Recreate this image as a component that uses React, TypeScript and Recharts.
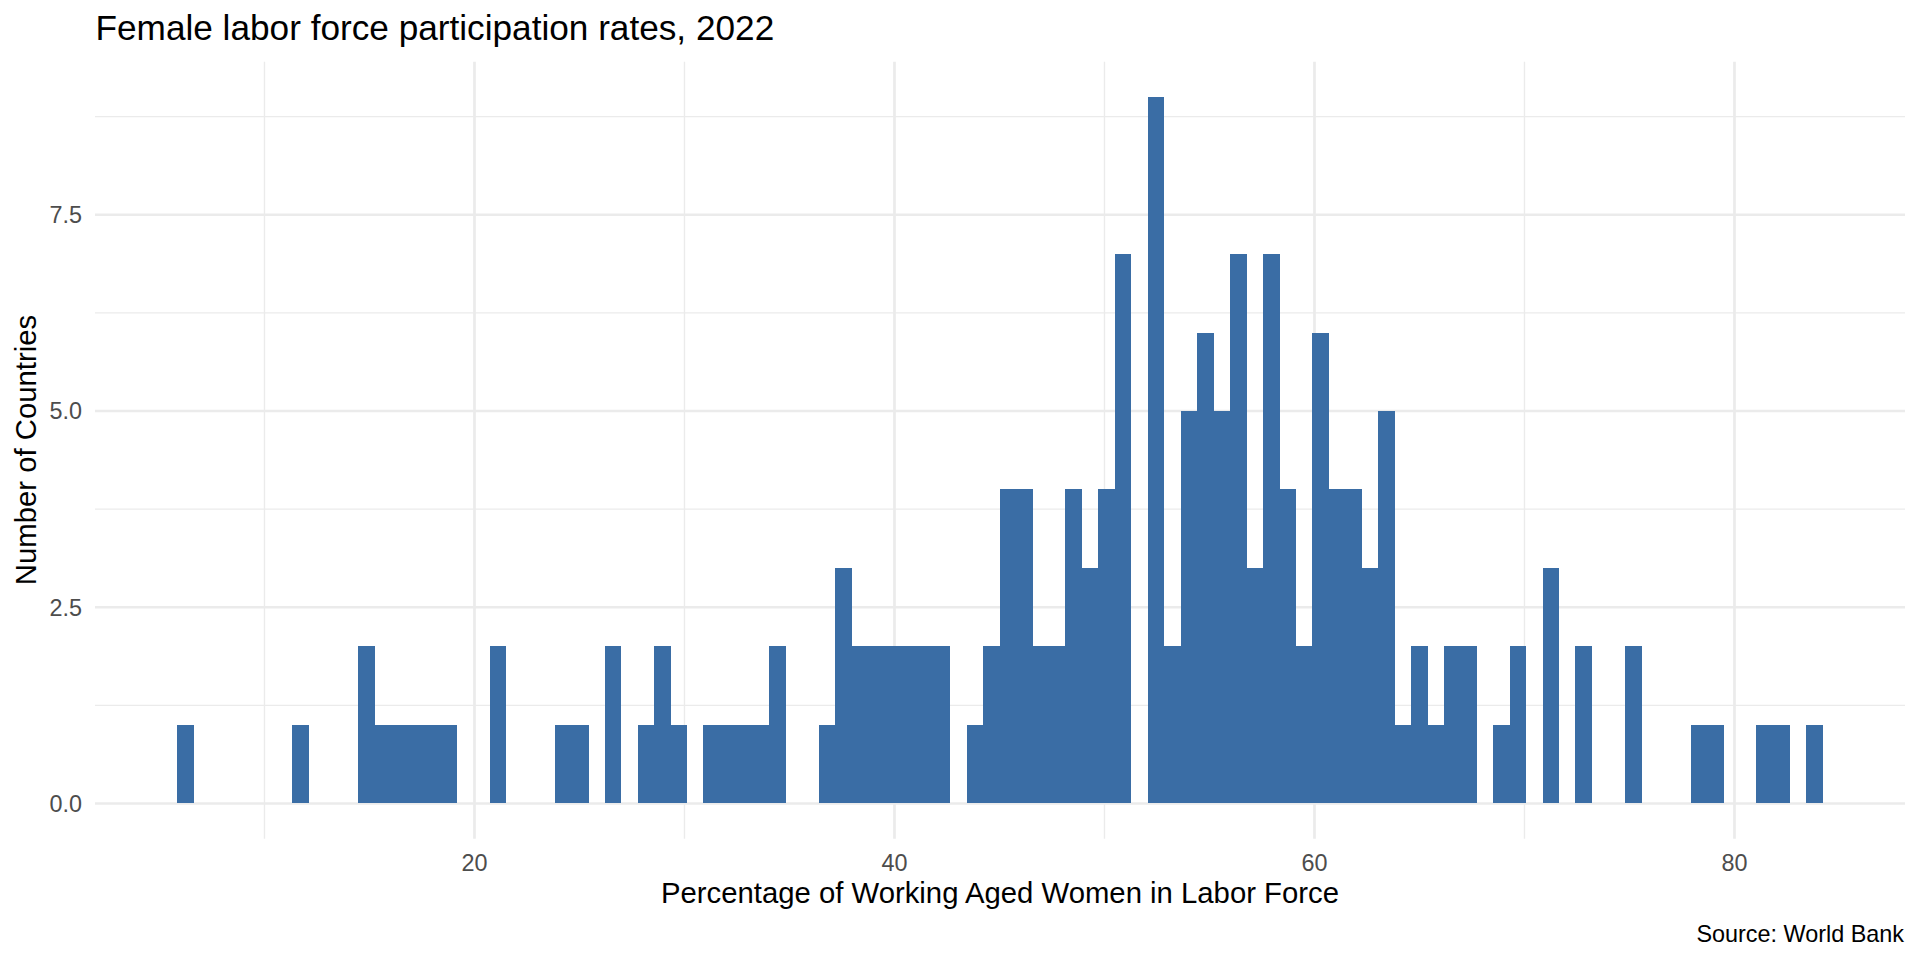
import { Bar, BarChart, CartesianGrid, XAxis, YAxis } from 'recharts';

// histogram of female labour force participation, 100 bins (ggplot style)
const BIN_START = 6.24; // centre of first bin
const BIN_WIDTH = 0.7835;

const binCounts = [
  1, 0, 0, 0, 0, 0, 0, 1, 0, 0,
  0, 2, 1, 1, 1, 1, 1, 0, 0, 2,
  0, 0, 0, 1, 1, 0, 2, 0, 1, 2,
  1, 0, 1, 1, 1, 1, 2, 0, 0, 1,
  3, 2, 2, 2, 2, 2, 2, 0, 1, 2,
  4, 4, 2, 2, 4, 3, 4, 7, 0, 9,
  2, 5, 6, 5, 7, 3, 7, 4, 2, 6,
  4, 4, 3, 5, 1, 2, 1, 2, 2, 0,
  1, 2, 0, 3, 0, 2, 0, 0, 2, 0,
  0, 0, 1, 1, 0, 0, 1, 1, 0, 1,
];

const xTicks = [20, 40, 60, 80];
const xMinorGrid = [10, 30, 50, 70];
const yTicks = [0, 2.5, 5, 7.5];
const yMinorGrid = [1.25, 3.75, 6.25, 8.75];

const X_DOMAIN: [number, number] = [1.93, 88.12];
const Y_DOMAIN: [number, number] = [-0.45, 9.45];

const FONT = '"Liberation Sans", Arial, Helvetica, sans-serif';
const BAR_COLOR = '#3A6DA5';
const GRID_COLOR = '#EBEBEB';

const chartData = binCounts.map((count, i) => ({
  x: BIN_START + i * BIN_WIDTH,
  count,
}));

// plain rect, widened a hair + crisp edges so neighbouring bins join without seams
const HistBar = (props: any) => {
  const { x, y, width, height } = props;
  if (!height || height <= 0) return null;
  return (
    <rect
      x={x - 0.35}
      y={y}
      width={width + 0.7}
      height={height}
      fill={BAR_COLOR}
      shapeRendering="crispEdges"
    />
  );
};

export default function App() {
  return (
    <div style={{ position: 'relative', width: 1920, height: 960, background: '#fff' }}>
      <style>{'body{margin:0}'}</style>
      <BarChart
        width={1920}
        height={960}
        data={chartData}
        margin={{ top: 61.7, right: 15, bottom: 0, left: 0 }}
        barCategoryGap={0}
        barGap={0}
      >
        <CartesianGrid
          stroke={GRID_COLOR}
          strokeWidth={1.4}
          horizontalValues={yMinorGrid}
          verticalValues={xMinorGrid}
        />
        <CartesianGrid
          stroke={GRID_COLOR}
          strokeWidth={2.7}
          horizontalValues={yTicks}
          verticalValues={xTicks}
        />
        <XAxis
          type="number"
          dataKey="x"
          domain={X_DOMAIN}
          ticks={xTicks}
          interval={0}
          allowDataOverflow
          height={121.2}
          tickLine={false}
          axisLine={false}
          tickSize={0}
          tickMargin={16}
          tick={{ fill: '#4D4D4D', fontSize: 23.4, fontFamily: FONT }}
        />
        <YAxis
          type="number"
          domain={Y_DOMAIN}
          ticks={yTicks}
          interval={0}
          allowDataOverflow
          width={95}
          tickLine={false}
          axisLine={false}
          tickSize={0}
          tickMargin={13}
          tickFormatter={(v: number) => v.toFixed(1)}
          tick={{ fill: '#4D4D4D', fontSize: 23.4, fontFamily: FONT }}
        />
        <Bar dataKey="count" fill={BAR_COLOR} shape={HistBar} isAnimationActive={false} />
      </BarChart>

      <svg
        width={1920}
        height={960}
        style={{ position: 'absolute', left: 0, top: 0, pointerEvents: 'none' }}
        fontFamily={FONT}
      >
        <text x={95.5} y={40} fontSize={35.2} fill="#000">
          Female labor force participation rates, 2022
        </text>
        <text x={1000} y={902.5} fontSize={29.3} fill="#000" textAnchor="middle">
          Percentage of Working Aged Women in Labor Force
        </text>
        <text
          x={36}
          y={450}
          fontSize={29.3}
          fill="#000"
          textAnchor="middle"
          transform="rotate(-90, 36, 450)"
        >
          Number of Countries
        </text>
        <text x={1904} y={941.5} fontSize={23.4} fill="#000" textAnchor="end">
          Source: World Bank
        </text>
      </svg>
    </div>
  );
}
